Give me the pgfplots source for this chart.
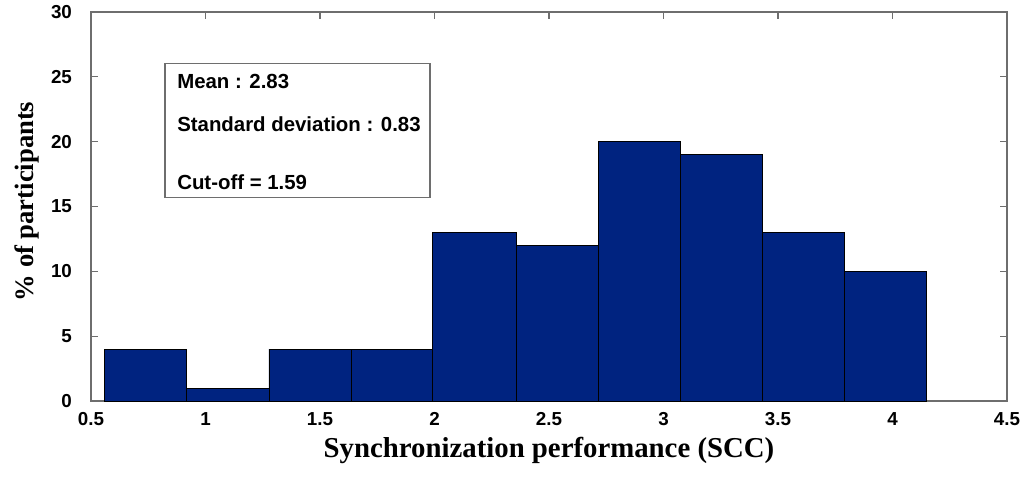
\documentclass[border=0pt]{standalone}
\usepackage{pgfplots}
\pgfplotsset{compat=1.18}
\usepackage{fontspec}
\setmainfont{Liberation Serif}
\setsansfont{Liberation Sans}
\definecolor{barblue}{RGB}{0,35,128}
\definecolor{axgray}{RGB}{110,110,110}
\newfontfamily\labfont[BoldFont={Liberation Serif Bold}]{Liberation Serif}
\begin{document}
\begin{tikzpicture}
\useasboundingbox (-45.5pt,-39pt) rectangle (465pt,200.5pt);
\begin{axis}[
  at={(0,0)}, anchor=south west,
  scale only axis,
  width=458pt, height=194.5pt,
  xmin=0.5, xmax=4.5, ymin=0, ymax=30,
  xtick={0.5,1,...,4.5}, ytick={0,5,...,30},
  tick align=inside,
  major tick length=3.5pt,
  axis line style={axgray, line width=0.6pt},
  every tick/.style={axgray, line width=0.6pt},
  /pgf/number format/assume math mode=true,
  ticklabel style={font=\fontsize{9.4}{11}\sffamily\bfseries},
  xticklabel style={yshift=-2pt},
  yticklabel style={xshift=-6pt},
  xlabel={\labfont\bfseries Synchronization performance (SCC)},
  ylabel={\labfont\bfseries \% of participants},
  every axis x label/.style={at={(axis description cs:0.5,-0.126)}, anchor=center, font=\fontsize{14.4}{16}\selectfont},
  every axis y label/.style={at={(axis description cs:-0.070,0.513)}, rotate=90, anchor=center, font=\fontsize{13.3}{15}\selectfont},
]
\addplot[ybar interval, fill=barblue, draw=black, line width=0.4pt] coordinates {
(0.557,4) (0.915,1) (1.277,4) (1.635,4) (1.993,13) (2.356,12) (2.714,20) (3.072,19) (3.430,13) (3.788,10) (4.146,0)};
\draw[axgray, line width=0.6pt, fill=white] (axis cs:0.823,15.7) rectangle (axis cs:1.98,26.0);
\node[anchor=base west, font=\fontsize{10.2}{12}\sffamily\bfseries, inner sep=0pt] at (axis cs:0.875,24.1) {Mean : 2.83};
\node[anchor=base west, font=\fontsize{10.2}{12}\sffamily\bfseries, inner sep=0pt] at (axis cs:0.875,20.75) {Standard deviation : 0.83};
\node[anchor=base west, font=\fontsize{10.2}{12}\sffamily\bfseries, inner sep=0pt] at (axis cs:0.875,16.35) {Cut-off = 1.59};
\end{axis}
\end{tikzpicture}
\end{document}
